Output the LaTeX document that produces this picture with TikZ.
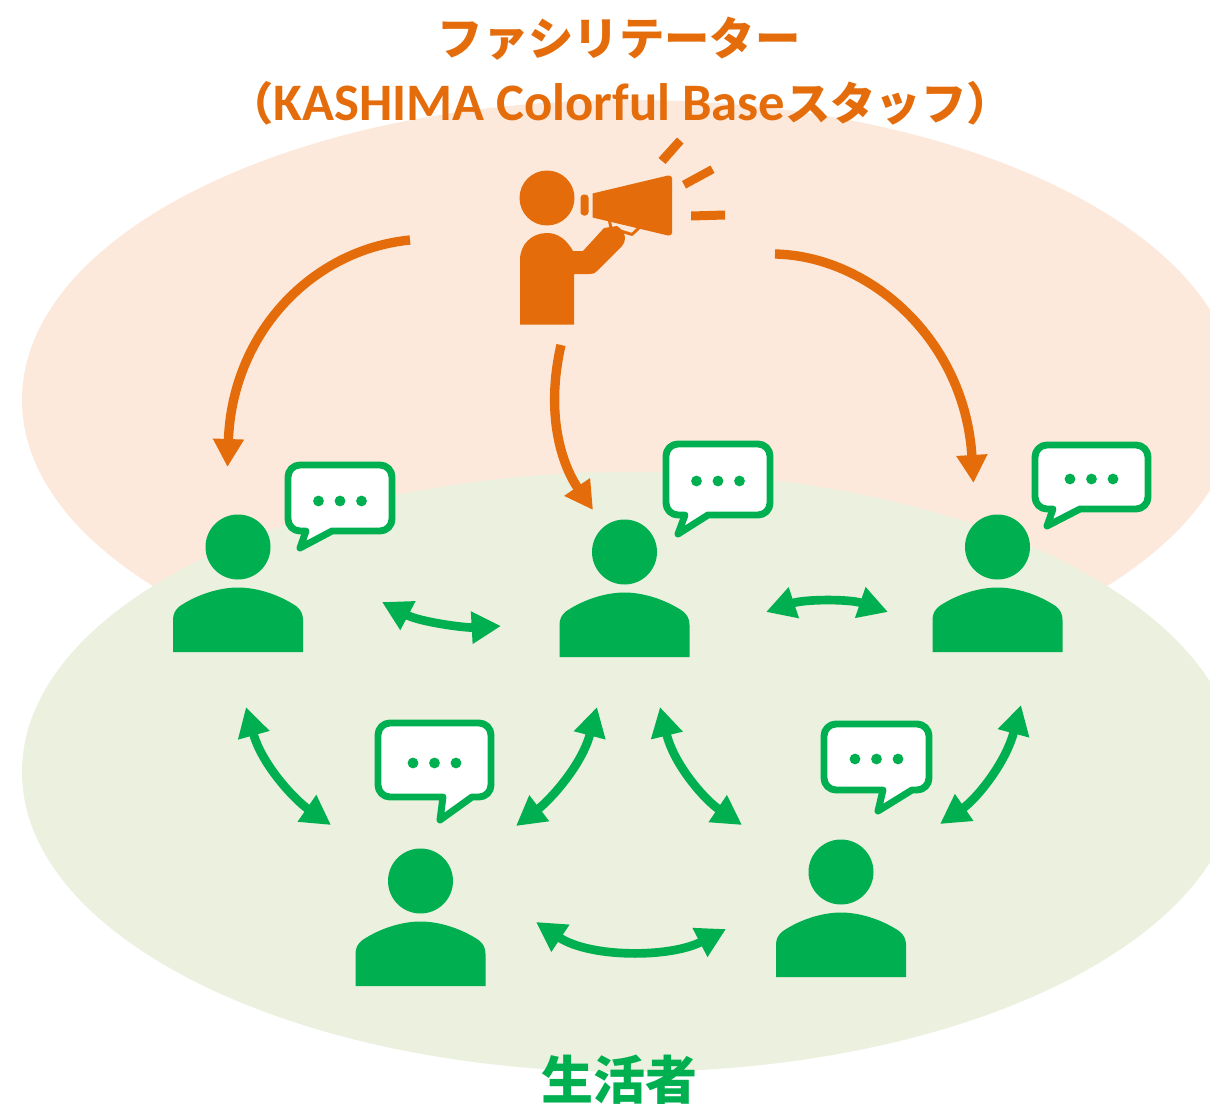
\documentclass[tikz,border=0pt]{standalone}
\usepackage{fontspec}
\setmainfont{Carlito}
\newfontfamily\cjk{Noto Sans CJK JP}
\usetikzlibrary{arrows.meta}
\definecolor{orangeink}{HTML}{E46C0A}
\definecolor{greenink}{HTML}{00B050}
\definecolor{orangebg}{HTML}{FDE9DB}
\definecolor{greenbg}{HTML}{EBF0DF}
\tikzset{
  orangearrow/.style={draw=orangeink,line width=7pt,-{Triangle[length=21pt,width=22pt]}},
  greenarrow/.style={draw=greenink,line width=6.5pt,{Triangle[length=22pt,width=23pt]}-{Triangle[length=22pt,width=23pt]}},
  bubbleline/.style={draw=greenink,fill=white,line width=5.2pt,line join=round},
  titletext/.style={text=orangeink,font=\bfseries\fontsize{34}{36}\selectfont,inner sep=0pt},
  person/.pic={
    \fill[greenink] (0,0) circle (32.5);
    \fill[greenink] (-65,105) -- (-65,73) .. controls (-65,67) and (-63,63) .. (-58,59)
      .. controls (-40,47) and (-18,40.5) .. (0,40.5)
      .. controls (18,40.5) and (40,47) .. (58,59)
      .. controls (63,63) and (65,67) .. (65,73) -- (65,105) -- cycle;
  }
}
\newcommand{\chatbubble}[9]{%
  % x1,y1,x2,y2, tail-left x, tip x, tip y, tail-right x, dots y
  \draw[bubbleline] (#1+12,#2) -- (#3-12,#2) .. controls (#3-5.4,#2) and (#3,#2+5.4) .. (#3,#2+12)
    -- (#3,#4-12) .. controls (#3,#4-5.4) and (#3-5.4,#4) .. (#3-12,#4)
    -- (#8,#4) -- (#6,#7) -- (#5,#4) -- (#1+12,#4) .. controls (#1+5.4,#4) and (#1,#4-5.4) .. (#1,#4-12)
    -- (#1,#2+12) .. controls (#1,#2+5.4) and (#1+5.4,#2) .. (#1+12,#2) -- cycle;
  \foreach \dotx in {-21.5,0,21.5}
    \fill[greenink] ({(#1+#3)/2+\dotx},#9) circle (5.4);
}
\begin{document}
\begin{tikzpicture}[x=0.75pt,y=-0.75pt]
\useasboundingbox (0,0) rectangle (1210,1106);
\clip (0,0) rectangle (1210,1106);
\fill[white] (0,0) rectangle (1210,1106);
\fill[orangebg] (630,400) ellipse [x radius=608,y radius=300];
\fill[greenbg] (630,772) ellipse [x radius=608,y radius=300];

% facilitator
\fill[orangeink] (547,198) circle (27.5);
\fill[orangeink] (520,324.5) -- (520,260) .. controls (520,244) and (532,233) .. (547,233)
  .. controls (558,233) and (567,240) .. (573,251) -- (583,251) -- (604,228) -- (617,226)
  .. controls (622,229) and (625,234) .. (625,238) .. controls (625,241) and (624,244) .. (622,246)
  -- (597,271) .. controls (594,274) and (592,274) .. (589,274) -- (574,274) -- (574,324.5) -- cycle;
\fill[orangeink] (592.5,193.5) -- (668,175.5) .. controls (670,175) and (672,176.5) .. (672,178)
  -- (672,233) .. controls (672,234.5) and (670,236) .. (668,235.5) -- (592.5,217.5) -- cycle;
\fill[orangeink,rounded corners=2.5pt] (580.5,194.5) rectangle (588.5,215.5);
\draw[orangeink,line width=2.2pt,line join=round] (609,219) -- (611,228) -- (632,234.5) -- (640,227);
\fill[orangeink] (677,137.5) -- (683.5,143.5) -- (665.5,164) -- (658.5,158) -- cycle;
\fill[orangeink] (710.5,165.5) -- (714.5,173) -- (686,188.5) -- (682,181) -- cycle;
\fill[orangeink] (691,211.5) -- (725,210.5) -- (725,219.5) -- (691,220.5) -- cycle;

% participants
\pic (p1) at (238,547) {person};
\pic (p2) at (624.5,552) {person};
\pic (p3) at (997.5,547) {person};
\pic (p4) at (420.5,881) {person};
\pic (p5) at (841,872) {person};

\chatbubble{288}{465}{392}{531}{306}{300}{548}{332}{501}
\chatbubble{666}{444}{770}{515}{685}{678}{534}{708}{481}
\chatbubble{1035}{445}{1148}{509}{1053}{1047}{526}{1080}{479}
\chatbubble{378}{723}{491}{797}{443}{440}{820}{472}{763}
\chatbubble{824}{724}{929}{790}{883}{878}{811}{912}{759}

% arrow ends
\coordinate (a1s) at (410,240); \coordinate (a1e) at (227.5,467);
\coordinate (a2s) at (561,345); \coordinate (a2e) at (593,510);
\coordinate (a3s) at (775,254); \coordinate (a3e) at (973.5,483);
\coordinate (g1a) at (382,602); \coordinate (g1b) at (501,626);
\coordinate (g2a) at (766,612); \coordinate (g2b) at (888,612);
\coordinate (g3a) at (246,707); \coordinate (g3b) at (331,825);
\coordinate (g4a) at (597,707); \coordinate (g4b) at (516,826);
\coordinate (g5a) at (660,707); \coordinate (g5b) at (742,825);
\coordinate (g6a) at (1021,705); \coordinate (g6b) at (940,824);
\coordinate (g7a) at (536,922); \coordinate (g7b) at (726,929);

\draw[orangearrow] (a1s) .. controls (310,250) and (232,335) .. (a1e);
\draw[orangearrow] (a2s) .. controls (545,415) and (562,465) .. (a2e);
\draw[orangearrow] (a3s) .. controls (870,256) and (965,340) .. (a3e);
\draw[greenarrow] (g1a) .. controls (420,622) and (465,628) .. (g1b);
\draw[greenarrow] (g2a) .. controls (805,599) and (850,599) .. (g2b);
\draw[greenarrow] (g3a) .. controls (262,765) and (295,800) .. (g3b);
\draw[greenarrow] (g4a) .. controls (582,765) and (550,800) .. (g4b);
\draw[greenarrow] (g5a) .. controls (674,765) and (705,800) .. (g5b);
\draw[greenarrow] (g6a) .. controls (1005,765) and (975,800) .. (g6b);
\draw[greenarrow] (g7a) .. controls (590,958) and (670,958) .. (g7b);

% labels
\node[titletext] (t1) at (619,39) {\cjk ファシリテーター};
\node[titletext] (t2) at (620,103) {\cjk （\normalfont\bfseries\fontsize{39.5}{40}\selectfont KASHIMA Colorful Base\cjk\fontsize{34}{36}\selectfont スタッフ）};
\node[text=greenink,font=\bfseries\fontsize{39}{40}\selectfont,inner sep=0pt] (t3) at (619,1080) {\cjk 生活者};
\end{tikzpicture}
\end{document}
